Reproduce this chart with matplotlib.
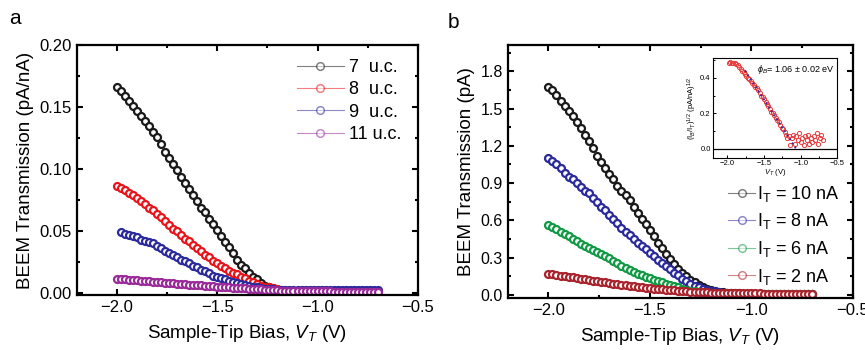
import numpy as np
import matplotlib.pyplot as plt
from matplotlib.lines import Line2D
from matplotlib.ticker import AutoMinorLocator

plt.rcParams['font.family'] = ['Liberation Sans', 'DejaVu Sans']
plt.rcParams['mathtext.fontset'] = 'custom'
plt.rcParams['mathtext.rm'] = 'Liberation Sans'
plt.rcParams['mathtext.it'] = 'Liberation Sans:italic'

# bias grid, -2.00 ... -0.70 V in 0.02 V steps
vt = np.round(np.arange(-2.0, -0.699, 0.02), 2)

# panel a: BEEM transmission (pA/nA) for different thicknesses
uc7 = [.166, .163, .159, .155, .151, .147, .143, .139, .135, .130, .126, .120, .114, .109,
       .104, .099, .094, .089, .084, .079, .074, .069, .065, .060, .056, .051, .046, .041,
       .037, .032, .027, .023, .020, .016, .013, .011, .008, .006, .005, .004, .003, .002,
       .0015, .0012] + [.001] * 22
uc8 = [.086, .085, .083, .081, .079, .077, .074, .072, .069, .067, .064, .061, .058, .055,
       .052, .050, .047, .044, .042, .039, .036, .034, .031, .029, .026, .024, .022, .020,
       .018, .016, .015, .013, .012, .010, .009, .007, .006, .005, .0045, .004, .003, .0025,
       .002, .002] + [.0015] * 22
uc9 = [.049, .048, .047, .046, .045, .043, .042, .041, .040, .038, .036, .034, .032, .031,
       .029, .027, .026, .024, .022, .021, .019, .018, .016, .014, .013, .012, .011, .010,
       .009, .008, .007, .0065, .006, .005, .0045, .004, .0035, .003, .003, .0028, .0026,
       .0025, .0024] + [.0023] * 22
uc11 = [.0110, .0112, .0110, .0107, .0104, .0102, .0100, .0097, .0094, .0092, .0089, .0087,
        .0084, .0082, .0079, .0077, .0074, .0072, .0069, .0067, .0064, .0062, .0059, .0057,
        .0054, .0052, .0050, .0048, .0046, .0044, .0042, .0040, .0038, .0036, .0034, .0032,
        .0030, .0028, .0026, .0024, .0022, .0020, .0019, .0018, .0017, .0016, .0016, .0015,
        .0015, .0014, .0014, .0013, .0013, .0013, .0012, .0012, .0012, .0011, .0011, .0011,
        .0011, .0010, .0010, .0010, .0010, .0010]

# panel b: BEEM current (pA) for different tunnel currents
it10 = [1.67, 1.65, 1.61, 1.56, 1.52, 1.48, 1.44, 1.39, 1.34, 1.29, 1.24, 1.18, 1.12, 1.07,
        1.02, 0.97, 0.93, 0.88, 0.84, 0.80, 0.76, 0.71, 0.66, 0.61, 0.57, 0.52, 0.47, 0.42,
        0.38, 0.33, 0.29, 0.25, 0.21, 0.18, 0.15, 0.12, 0.10, 0.08, 0.065, 0.05, 0.04, 0.032,
        0.026, 0.021, 0.018, 0.015, 0.013, 0.012, 0.011, 0.011] + [0.010] * 16
it8 = [1.10, 1.08, 1.05, 1.02, 0.98, 0.95, 0.93, 0.90, 0.87, 0.84, 0.82, 0.78, 0.75, 0.71,
       0.68, 0.64, 0.61, 0.58, 0.54, 0.51, 0.48, 0.45, 0.42, 0.39, 0.37, 0.34, 0.31, 0.28,
       0.26, 0.23, 0.21, 0.18, 0.16, 0.13, 0.11, 0.09, 0.075, 0.062, 0.05, 0.042, 0.035,
       0.028, 0.022, 0.018, 0.014, 0.012, 0.011, 0.010, 0.010] + [0.009] * 17
it6 = [0.56, 0.55, 0.53, 0.51, 0.49, 0.47, 0.45, 0.43, 0.41, 0.39, 0.375, 0.36, 0.345, 0.33,
       0.31, 0.295, 0.275, 0.255, 0.235, 0.215, 0.20, 0.185, 0.17, 0.16, 0.145, 0.134, 0.122,
       0.112, 0.10, 0.09, 0.08, 0.07, 0.06, 0.05, 0.042, 0.035, 0.029, 0.024, 0.019, 0.016,
       0.013, 0.011, 0.010, 0.009, 0.008, 0.008] + [0.007] * 20
it2 = [0.170, 0.166, 0.160, 0.155, 0.150, 0.145, 0.140, 0.134, 0.130, 0.126, 0.121, 0.115,
       0.110, 0.105, 0.100, 0.096, 0.091, 0.087, 0.083, 0.078, 0.074, 0.070, 0.066, 0.062,
       0.057, 0.053, 0.050, 0.047, 0.044, 0.041, 0.039, 0.037, 0.034, 0.032, 0.029, 0.027,
       0.025, 0.023, 0.022, 0.020, 0.019, 0.018, 0.017, 0.016, 0.015, 0.014, 0.013, 0.013,
       0.013, 0.012, 0.012, 0.012, 0.012, 0.011, 0.011, 0.011, 0.011, 0.011, 0.010, 0.010,
       0.010, 0.010, 0.010, 0.010, 0.010, 0.010]

# inset: (I_B/I_T)^1/2 from -1.98 V, and linear fit
sq = [0.48, 0.49, 0.485, 0.48, 0.48, 0.475, 0.47, 0.46, 0.45, 0.44, 0.43, 0.42, 0.41, 0.40,
      0.39, 0.38, 0.37, 0.36, 0.35, 0.34, 0.33, 0.315, 0.30, 0.29, 0.28, 0.265, 0.25, 0.24,
      0.225, 0.21, 0.20, 0.19, 0.175, 0.16, 0.15, 0.135, 0.12, 0.11, 0.095, 0.08, 0.06,
      0.07, 0.02, 0.06, 0.08, 0.03, 0.07, 0.05, 0.09, 0.04, 0.06, 0.02, 0.07, 0.05, 0.08,
      0.03, 0.06, 0.04, 0.07, 0.05, 0.09, 0.03, 0.06, 0.08, 0.05]
fit_v = [-1.76, -1.06]
fit_y = [0.44, 0.0]

labels_a = ['7  u.c.', '8  u.c.', '9  u.c.', '11 u.c.']
colors_a = ['#1a1a1a', '#e8141b', '#2a2a9c', '#9a2a9a']
labels_b = ['I$_\\mathregular{T}$ = 10 nA', 'I$_\\mathregular{T}$ = 8 nA',
            'I$_\\mathregular{T}$ = 6 nA', 'I$_\\mathregular{T}$ = 2 nA']
colors_b = ['#1a1a1a', '#2a2a9c', '#119945', '#a8232c']


def style(ax, fs):
    for s in ax.spines.values():
        s.set_linewidth(1.6)
    ax.tick_params(which='both', direction='in', top=True, right=True, width=1.5, labelsize=fs)
    ax.tick_params(which='major', length=4)
    ax.tick_params(which='minor', length=2.5)
    ax.xaxis.set_minor_locator(AutoMinorLocator(2))
    ax.yaxis.set_minor_locator(AutoMinorLocator(2))


fig = plt.figure(figsize=(8.65, 3.5), dpi=100)
ax1 = fig.add_axes([0.089, 0.157, 0.394, 0.714])
ax2 = fig.add_axes([0.587, 0.149, 0.399, 0.722])
ins = fig.add_axes([0.824, 0.549, 0.144, 0.285])

mk = dict(ls='none', marker='o', ms=5.0, mfc='white', mew=1.6)

# panel a
series_a = [uc7, uc8, uc9, uc11]
for y, c in zip(series_a, colors_a):
    x = vt[len(vt) - len(y):]
    ax1.plot(x, y, mec=c, **mk)
ax1.set_xlim(-2.2, -0.5)
ax1.set_ylim(-0.0016, 0.2)
ax1.set_xticks([-2.0, -1.5, -1.0, -0.5])
ax1.set_yticks([0, 0.05, 0.10, 0.15, 0.20])
ax1.set_yticklabels(['0.00', '0.05', '0.10', '0.15', '0.20'])
style(ax1, 12)
ax1.set_xlabel('Sample-Tip Bias, $\\mathit{V_T}$ (V)', fontsize=13.5, labelpad=6)
ax1.set_ylabel('BEEM Transmission (pA/nA)', fontsize=13.5)
h_a = [Line2D([], [], color=c, lw=0.8, alpha=0.55, marker='o', ms=5.5, mfc='white',
              mec=c, markeredgewidth=1.1) for c in colors_a]
ax1.legend(h_a, labels_a, loc='upper right', bbox_to_anchor=(1.0, 1.01), frameon=False,
           fontsize=13, handlelength=2.6, handletextpad=0.3, labelspacing=0.3)
fig.text(0.01, 0.93, 'a', fontsize=15)

# panel b
series_b = [it10, it8, it6, it2]
for y, c in zip(series_b, colors_b):
    ax2.plot(vt, y, mec=c, **mk)
ax2.set_xlim(-2.2, -0.5)
ax2.set_ylim(-0.024, 2.01)
ax2.set_xticks([-2.0, -1.5, -1.0, -0.5])
ax2.set_yticks(np.arange(0, 1.81, 0.3))
style(ax2, 12)
ax2.tick_params(axis='y', labelsize=11.5)
ax2.set_xlabel('Sample-Tip Bias, $\\mathit{V_T}$ (V)', fontsize=13.5, labelpad=6)
ax2.set_ylabel('BEEM Transmission (pA)', fontsize=13.5)
h_b = [Line2D([], [], color=c, lw=0.8, alpha=0.55, marker='o', ms=5.5, mfc='white',
              mec=c, markeredgewidth=1.1) for c in colors_b]
ax2.legend(h_b, labels_b, loc='lower right', bbox_to_anchor=(1.01, -0.02), frameon=False,
           fontsize=13, handlelength=1.5, handletextpad=0.1, labelspacing=0.42)
fig.text(0.518, 0.92, 'b', fontsize=15)

# inset
ins.plot(vt[1:], sq, 'o', ms=3, mfc='none', mec='#e83a3a', mew=0.7)
ins.plot(fit_v, fit_y, ':', color='#2a2aa0', lw=1.3)
ins.axhline(0, color='black', lw=0.9)
ins.set_xlim(-2.2, -0.5)
ins.set_ylim(-0.05, 0.51)
ins.set_xticks([-2.0, -1.5, -1.0, -0.5])
ins.set_yticks([0.0, 0.2, 0.4])
for s in ins.spines.values():
    s.set_linewidth(0.8)
ins.tick_params(which='both', direction='in', width=0.7, length=2, labelsize=5.5, pad=1.5)
ins.xaxis.set_minor_locator(AutoMinorLocator(2))
ins.yaxis.set_minor_locator(AutoMinorLocator(2))
ins.tick_params(which='minor', length=1.2)
ins.set_xlabel('$\\mathit{V_T}$ (V)', fontsize=5.5, labelpad=0)
ins.set_ylabel('(I$_B$/I$_T$)$^{1/2}$ (pA/nA)$^{1/2}$', fontsize=5.5, labelpad=1)
ins.text(0.98, 0.95, '$\\mathit{\\phi_B}$= 1.06 ± 0.02 eV', transform=ins.transAxes,
         ha='right', va='top', fontsize=6.5)

fig.savefig('out.png', dpi=100)
